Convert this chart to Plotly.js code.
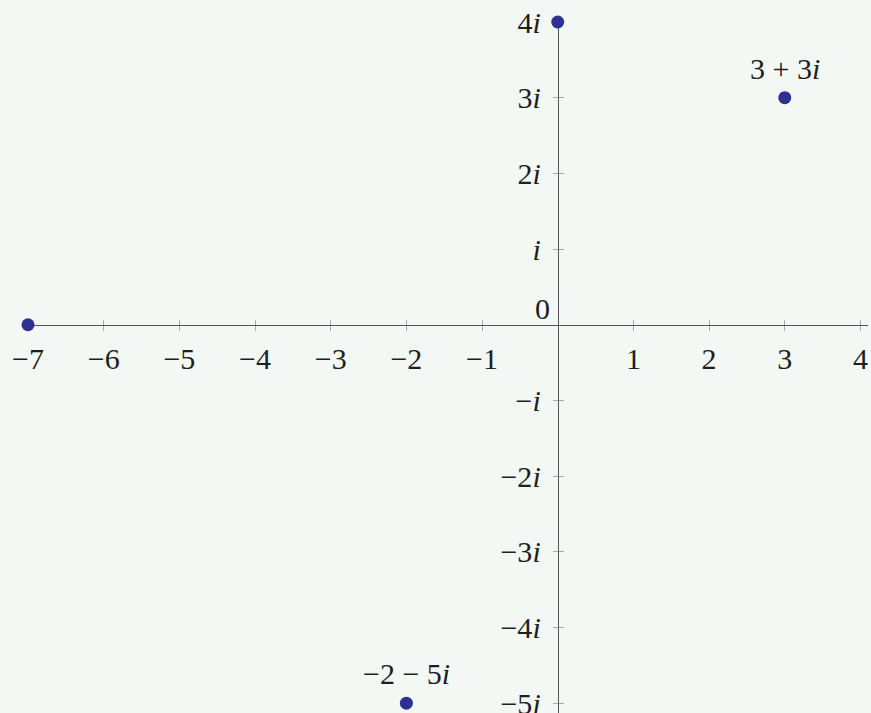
<!DOCTYPE html>
<html>
<head>
<meta charset="utf-8">
<script src="https://cdn.plot.ly/plotly-3.0.1.min.js"></script>
<style>
  html, body { margin: 0; padding: 0; background: #f4f8f5; }
  #plot { width: 871px; height: 713px; }
</style>
</head>
<body>
<div id="plot"></div>
<script>
'use strict'

// points in the complex plane: real part, imaginary part
var re = [-7, 0, 3, -2];
var im = [0, 4, 3, -5];
var pointLabels = ['', '', '3 + 3<i>i</i>', '\u22122 \u2212 5<i>i</i>'];

var xTicks = [-7, -6, -5, -4, -3, -2, -1, 1, 2, 3, 4];
var xTickText = ['\u22127', '\u22126', '\u22125', '\u22124', '\u22123', '\u22122', '\u22121', '1', '2', '3', '4'];
var yTicks = [-5, -4, -3, -2, -1, 1, 2, 3, 4];
var yTickText = ['\u22125<i>i</i>', '\u22124<i>i</i>', '\u22123<i>i</i>', '\u22122<i>i</i>', '\u2212<i>i</i>',
                 '<i>i</i>', '2<i>i</i>', '3<i>i</i>', '4<i>i</i>'];

var xRange = [-7, 4.1];
var yRange = [-5.13, 4];
var fontFam = "'Liberation Serif', serif";
var txtCol = '#1e1e1e';

// where the axes cross, as paper fractions
var xAxisPos = (0 - yRange[0]) / (yRange[1] - yRange[0]);
var yAxisPos = (0 - xRange[0]) / (xRange[1] - xRange[0]);

var points = {
    x: re,
    y: im,
    mode: 'markers',
    type: 'scatter',
    cliponaxis: false,
    hoverinfo: 'skip',
    marker: { size: 13, color: '#2e3192' }
};

// empty trace so the second pair of axes (inner tick halves) gets drawn
var ghost = {
    x: [], y: [], xaxis: 'x2', yaxis: 'y2',
    type: 'scatter', mode: 'markers', hoverinfo: 'skip', showlegend: false
};

var annots = [];
for (var i = 0; i < re.length; i++) {
    if (pointLabels[i] === '') continue;
    annots.push({
        x: re[i], y: im[i], xref: 'x', yref: 'y',
        text: pointLabels[i], showarrow: false,
        yanchor: 'bottom', yshift: 11,
        font: { family: fontFam, size: 30, color: txtCol }
    });
}
// origin label
annots.push({
    x: 0, y: 0, xref: 'x', yref: 'y', text: '0', showarrow: false,
    xanchor: 'right', yanchor: 'bottom', xshift: -6, yshift: -2,
    font: { family: fontFam, size: 30, color: txtCol }
});

var baseX = {
    range: xRange, autorange: false, showgrid: false, zeroline: false,
    showline: false, fixedrange: true, layer: 'below traces'
};
var baseY = {
    range: yRange, autorange: false, showgrid: false, zeroline: false,
    showline: false, fixedrange: true, layer: 'below traces'
};

var layout = {
    width: 871,
    height: 713,
    margin: { l: 28, r: 3, t: 22, b: 0 },
    paper_bgcolor: '#f4f8f5',
    plot_bgcolor: '#f4f8f5',
    showlegend: false,
    xaxis: Object.assign({}, baseX, {
        anchor: 'free', position: xAxisPos,
        showline: true, linecolor: '#555', linewidth: 1.3,
        tickmode: 'array', tickvals: xTicks, ticktext: xTickText,
        ticks: 'outside', ticklen: 5, tickcolor: '#aaa', tickwidth: 1,
        ticklabelstandoff: 2, ticklabeloverflow: 'allow',
        tickfont: { family: fontFam, size: 30, color: txtCol }
    }),
    yaxis: Object.assign({}, baseY, {
        anchor: 'free', position: yAxisPos,
        showline: true, linecolor: '#555', linewidth: 1.3,
        tickmode: 'array', tickvals: yTicks, ticktext: yTickText,
        ticks: 'outside', ticklen: 5, tickcolor: '#aaa', tickwidth: 1,
        ticklabelstandoff: 6, ticklabeloverflow: 'allow',
        tickfont: { family: fontFam, size: 30, color: txtCol }
    }),
    xaxis2: Object.assign({}, baseX, {
        overlaying: 'x', anchor: 'free', position: xAxisPos,
        tickmode: 'array', tickvals: xTicks,
        ticks: 'inside', ticklen: 5, tickcolor: '#aaa', tickwidth: 1,
        showticklabels: false
    }),
    yaxis2: Object.assign({}, baseY, {
        overlaying: 'y', anchor: 'free', position: yAxisPos,
        tickmode: 'array', tickvals: yTicks,
        ticks: 'inside', ticklen: 5, tickcolor: '#aaa', tickwidth: 1,
        showticklabels: false
    }),
    annotations: annots
};

Plotly.newPlot('plot', [points, ghost], layout, { displayModeBar: false, staticPlot: true });
</script>
</body>
</html>
